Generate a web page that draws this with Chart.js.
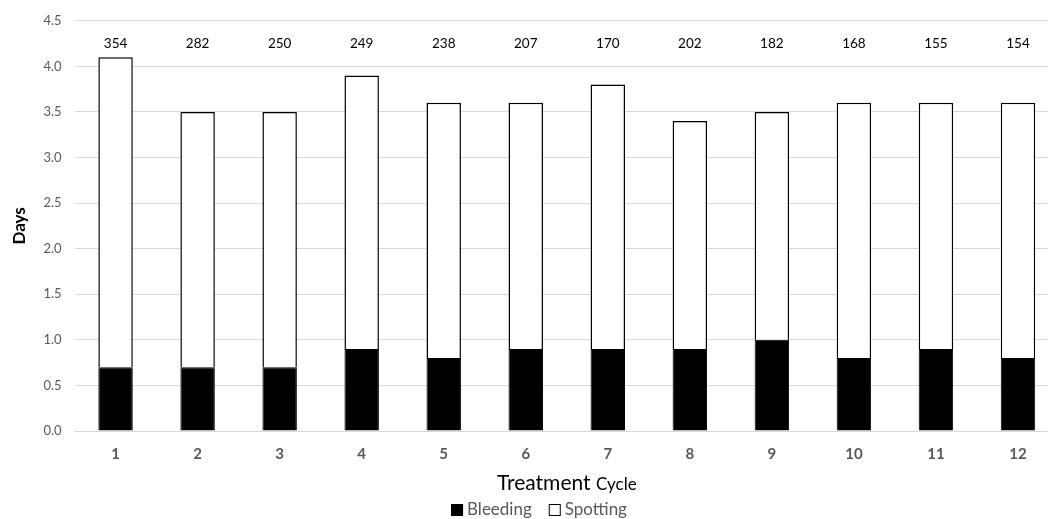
<!DOCTYPE html>
<html>
<head>
<meta charset="utf-8">
<script src="https://cdn.jsdelivr.net/npm/chart.js@4/dist/chart.umd.min.js"></script>
<style>
  html, body { margin: 0; padding: 0; background: #fff; overflow: hidden; }
  #clip { width: 1048px; height: 519px; overflow: hidden; }
  #wrap { width: 1062px; height: 519px; }
</style>
</head>
<body>
<div id="clip"><div id="wrap"><canvas id="bar-chart"></canvas></div></div>
<script>
const cycles = ['1', '2', '3', '4', '5', '6', '7', '8', '9', '10', '11', '12'];
const bleeding = [0.7, 0.7, 0.7, 0.9, 0.8, 0.9, 0.9, 0.9, 1.0, 0.8, 0.9, 0.8];
const spotting = [3.4, 2.8, 2.8, 3.0, 2.8, 2.7, 2.9, 2.5, 2.5, 2.8, 2.7, 2.8];
const patients = [354, 282, 250, 249, 238, 207, 170, 202, 182, 168, 155, 154];
const labelLevel = 4.25;

const FONT = 'Lato, "Open Sans", sans-serif';
const GREY = '#595959';

// n-numbers above the bars, two-size x axis title, legend
const extras = {
  id: 'extras',
  afterDatasetsDraw(chart) {
    const ctx = chart.ctx;
    const x = chart.scales.x, y = chart.scales.y;
    const area = chart.chartArea;
    ctx.save();
    ctx.fillStyle = '#000';
    ctx.font = '13.5px ' + FONT;
    ctx.textAlign = 'center';
    ctx.textBaseline = 'middle';
    patients.forEach((n, i) => {
      ctx.fillText(String(n), x.getPixelForValue(i), y.getPixelForValue(labelLevel));
    });

    // "Treatment Cycle" title, second word smaller
    const big = '21px ' + FONT, small = '17px ' + FONT;
    ctx.font = big;
    const w1 = ctx.measureText('Treatment ').width;
    ctx.font = small;
    const w2 = ctx.measureText('Cycle').width;
    const cx = (area.left + area.right) / 2;
    let left = cx - (w1 + w2) / 2;
    const ty = area.bottom + 59;
    ctx.textAlign = 'left';
    ctx.textBaseline = 'alphabetic';
    ctx.fillStyle = '#000';
    ctx.font = big;
    ctx.fillText('Treatment ', left, ty);
    ctx.font = small;
    ctx.fillText('Cycle', left + w1, ty);

    // legend
    const items = chart.data.datasets.map(d => ({ text: d.label, fill: d.backgroundColor }));
    const box = 12, gap = 4, between = 17;
    ctx.font = '17px ' + FONT;
    const widths = items.map(it => box + gap + ctx.measureText(it.text).width);
    const total = widths.reduce((a, b) => a + b, 0) + between * (items.length - 1);
    left = 539 - total / 2;
    const ly = area.bottom + 79;
    ctx.textBaseline = 'middle';
    items.forEach((it, i) => {
      ctx.fillStyle = it.fill;
      ctx.fillRect(left, ly - box / 2, box, box);
      ctx.strokeStyle = '#000';
      ctx.lineWidth = 1;
      ctx.strokeRect(left + 0.5, ly - box / 2 + 0.5, box - 1, box - 1);
      ctx.fillStyle = GREY;
      ctx.fillText(it.text, left + box + gap, ly);
      left += widths[i] + between;
    });
    ctx.restore();
  }
};

new Chart(document.getElementById('bar-chart'), {
  type: 'bar',
  data: {
    labels: cycles,
    datasets: [
      {
        label: 'Bleeding',
        data: bleeding,
        backgroundColor: '#000000',
        borderColor: '#000000',
        borderWidth: 1,
        barPercentage: 0.42,
        categoryPercentage: 1.0
      },
      {
        label: 'Spotting',
        data: spotting,
        backgroundColor: '#ffffff',
        borderColor: '#000000',
        borderWidth: 1.5,
        borderSkipped: 'bottom',
        barPercentage: 0.42,
        categoryPercentage: 1.0
      }
    ]
  },
  options: {
    responsive: true,
    maintainAspectRatio: false,
    animation: false,
    layout: { padding: { top: 11, right: 3, left: 5, bottom: 50 } },
    plugins: {
      tooltip: { enabled: false },
      legend: { display: false }
    },
    scales: {
      x: {
        stacked: true,
        grid: { display: false },
        border: { display: true, color: '#d9d9d9', width: 1 },
        ticks: {
          color: GREY,
          font: { family: FONT, size: 15, weight: 'bold' },
          padding: 6
        }
      },
      y: {
        stacked: true,
        min: 0,
        max: 4.5,
        grid: { color: '#d9d9d9', lineWidth: 1, drawTicks: false },
        border: { display: false },
        ticks: {
          stepSize: 0.5,
          color: GREY,
          font: { family: FONT, size: 13 },
          padding: 13,
          callback: v => Number(v).toFixed(1)
        },
        title: {
          display: true,
          text: 'Days',
          color: '#000',
          font: { family: FONT, size: 17, weight: 'bold' },
          padding: { bottom: 1 }
        }
      }
    }
  },
  plugins: [extras]
});
</script>
</body>
</html>
